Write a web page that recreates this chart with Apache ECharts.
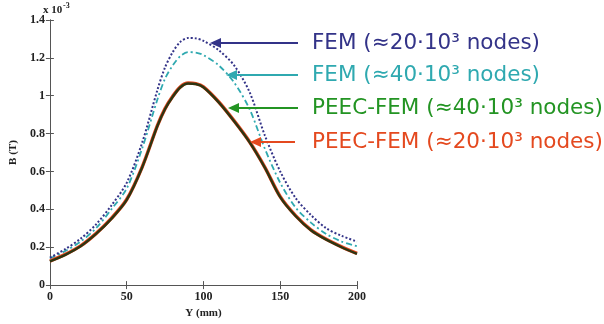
<!DOCTYPE html>
<html><head><meta charset="utf-8">
<script src="https://cdn.jsdelivr.net/npm/echarts@6/dist/echarts.min.js"></script>
<style>html,body{margin:0;padding:0;background:#fff}#c{width:604px;height:324px}</style>
</head><body><div id="c"></div>
<script>
// Y position (mm)
const yPos = [0,10,20,30,40,50,60,70,75,80,85,90,95,100,110,120,130,140,150,160,170,180,190,200];
// B (T) in units of 1e-3
const fem20 = [0.145,0.19,0.245,0.32,0.42,0.54,0.75,1.03,1.15,1.23,1.285,1.305,1.303,1.29,1.24,1.16,1.02,0.79,0.6,0.46,0.37,0.3,0.26,0.23];
const fem40 = [0.14,0.18,0.23,0.30,0.40,0.51,0.72,0.98,1.09,1.16,1.21,1.23,1.228,1.215,1.16,1.07,0.93,0.72,0.54,0.41,0.33,0.27,0.23,0.205];
const peec40 = [0.125,0.16,0.205,0.27,0.35,0.45,0.62,0.84,0.93,0.995,1.045,1.065,1.062,1.045,0.965,0.865,0.755,0.62,0.465,0.365,0.29,0.24,0.2,0.165];
const peec20 = [0.127,0.162,0.207,0.272,0.352,0.452,0.622,0.842,0.932,0.997,1.047,1.067,1.064,1.047,0.967,0.867,0.757,0.622,0.467,0.367,0.292,0.242,0.202,0.167];
const xTicks = [0,50,100,150,200];
const yTicks = [0,0.2,0.4,0.6,0.8,1,1.2,1.4];
const labels = ['FEM (\u224820\u00b710\u00b3 nodes)','FEM (\u224840\u00b710\u00b3 nodes)','PEEC-FEM (\u224840\u00b710\u00b3 nodes)','PEEC-FEM (\u224820\u00b710\u00b3 nodes)'];
const colors = ['#333388','#2fa9b0','#239423','#e4491f'];

const pairs = a => yPos.map((x,i)=>[x,a[i]]);
const tickFont = {fontFamily:'Liberation Serif',fontWeight:'bold',fontSize:12,color:'#222'};
const axLine = {lineStyle:{color:'#555',width:1}};
const chart = echarts.init(document.getElementById('c'));

const annY = [43,75,108,142];
const arrowFrom = [298,298,298,295];
const arrowTo = [210,226,228,250];
const graphics = [{type:'rect',shape:{x:300,y:23,width:304,height:135},style:{fill:'#fff'},z:50}];
labels.forEach((t,i)=>{
  graphics.push({type:'text',x:312,y:annY[i],z:60,style:{text:t,fill:colors[i],font:'21.5px "DejaVu Sans"',textVerticalAlign:'middle'}});
  graphics.push({type:'line',z:60,shape:{x1:arrowFrom[i],y1:annY[i],x2:arrowTo[i]+8,y2:annY[i]},style:{stroke:colors[i],lineWidth:2}});
  graphics.push({type:'polygon',z:60,shape:{points:[[arrowTo[i],annY[i]],[arrowTo[i]+11,annY[i]-5],[arrowTo[i]+11,annY[i]+5]]},style:{fill:colors[i]}});
});
graphics.push({type:'text',x:43,y:5,z:60,style:{text:'x 10',font:'bold 11px "Liberation Serif"',fill:'#222'}});
graphics.push({type:'text',x:63,y:2,z:60,style:{text:'-3',font:'bold 8px "Liberation Serif"',fill:'#222'}});

chart.setOption({
  animation:false,
  grid:{left:42,right:247,top:20,bottom:31},
  xAxis:[
    {type:'value',min:0,max:200,interval:50,position:'bottom',axisLine:axLine,
     axisTick:{inside:true,length:4,lineStyle:{color:'#555'}},splitLine:{show:false},
     axisLabel:Object.assign({margin:6},tickFont),
     name:'Y (mm)',nameLocation:'middle',nameGap:19,nameTextStyle:{fontFamily:'Liberation Serif',fontWeight:'bold',fontSize:11,color:'#222'}},
    {type:'value',min:0,max:200,interval:50,position:'top',axisLine:axLine,
     axisTick:{inside:true,length:4,lineStyle:{color:'#555'}},splitLine:{show:false},axisLabel:{show:false}}
  ],
  yAxis:[
    {type:'value',min:0,max:1.4,interval:0.2,position:'left',axisLine:axLine,
     axisTick:{inside:true,length:4,lineStyle:{color:'#555'}},splitLine:{show:false},
     axisLabel:Object.assign({margin:5,formatter:v=>(Math.abs(v-Math.round(v))<1e-9?String(Math.round(v)):v.toFixed(1))},tickFont),
     name:'B (T)',nameLocation:'middle',nameGap:27,nameRotate:90,nameTextStyle:{fontFamily:'Liberation Serif',fontWeight:'bold',fontSize:11,color:'#222'}},
    {type:'value',min:0,max:1.4,interval:0.2,position:'right',axisLine:axLine,
     axisTick:{inside:true,length:4,lineStyle:{color:'#555'}},splitLine:{show:false},axisLabel:{show:false}}
  ],
  series:[
    {type:'line',name:labels[1],data:pairs(fem40),smooth:0.3,showSymbol:false,lineStyle:{color:colors[1],width:1.8,type:[6,3,2,3]},z:3},
    {type:'line',name:labels[0],data:pairs(fem20),smooth:0.3,showSymbol:false,lineStyle:{color:colors[0],width:2,type:[2,2]},z:4},
    {type:'line',name:labels[3],data:pairs(peec20),smooth:0.3,showSymbol:false,lineStyle:{color:colors[3],width:3.5},z:5},
    {type:'line',name:labels[2],data:pairs(peec40),smooth:0.3,showSymbol:false,lineStyle:{color:'#2d3512',width:2.4},z:6}
  ],
  graphic:graphics
});
</script></body></html>
